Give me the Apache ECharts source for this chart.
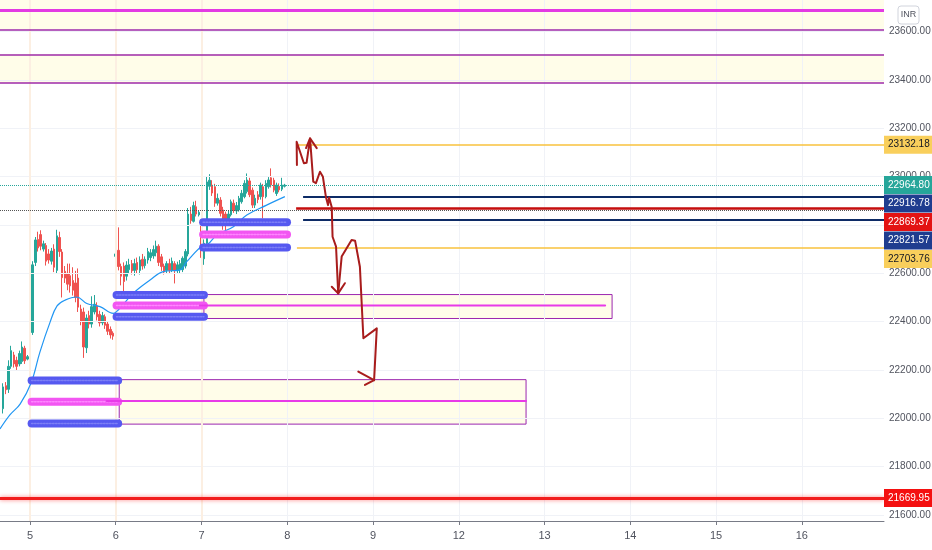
<!DOCTYPE html>
<html>
<head>
<meta charset="utf-8">
<script src="https://cdn.jsdelivr.net/npm/echarts@6/dist/echarts.min.js"></script>
<style>
html,body{margin:0;padding:0;background:#fff;}
#chart{width:932px;height:550px;}
</style>
</head>
<body>
<div id="chart"></div>
<script>
// candles: [open, close, low, high], one bar per slot, 32 slots per session
var barsPerDay = 32;
var firstIndex = -10;
var dayLabels = ['5', '6', '7', '8', '9', '12', '13', '14', '15', '16'];
var priceTicks = [21600, 21800, 22000, 22200, 22400, 22600, 22800, 23000, 23200, 23400, 23600];

var day4Tail = [
  [22040,22130,22020,22145],[22135,22118,22100,22150],[22120,22215,22105,22240],
  [22215,22280,22205,22300],[22262,22225,22210,22275],[22240,22215,22200,22255],
  [22225,22268,22215,22280],[22235,22295,22225,22318],[22290,22238,22225,22300],
  [22245,22255,22240,22262]
];
var day5 = [
  [22350,22360,22345,22365],[22355,22635,22345,22650],[22645,22738,22630,22750],
  [22740,22705,22690,22772],[22760,22712,22695,22778],[22700,22722,22690,22735],
  [22715,22650,22632,22725],[22680,22655,22640,22700],[22650,22692,22636,22705],
  [22700,22625,22605,22720],[22612,22755,22600,22780],[22748,22690,22668,22772],
  [22688,22582,22500,22700],[22608,22580,22560,22630],[22600,22555,22530,22640],
  [22590,22548,22520,22640],[22570,22530,22508,22625],[22560,22500,22480,22610],
  [22580,22460,22440,22620],[22452,22400,22385,22470],[22440,22295,22250,22458],
  [22292,22415,22270,22430],[22425,22390,22372,22445],[22390,22462,22375,22505],
  [22440,22472,22430,22510],[22465,22420,22405,22480],[22430,22395,22380,22445],
  [22395,22425,22385,22440],[22420,22385,22370,22430],[22390,22360,22345,22400],
  [22368,22345,22330,22380],[22352,22340,22325,22360]
];
var day6 = [
  [22670,22680,22665,22685],[22695,22628,22612,22790],[22628,22588,22550,22640],
  [22630,22566,22525,22645],[22588,22634,22570,22650],[22615,22636,22600,22660],
  [22640,22610,22595,22655],[22612,22640,22590,22660],[22645,22615,22598,22665],
  [22612,22655,22595,22670],[22658,22630,22615,22680],[22632,22658,22620,22670],
  [22655,22690,22640,22705],[22665,22685,22650,22700],[22672,22698,22660,22715],
  [22685,22712,22670,22735],[22712,22645,22630,22720],[22668,22628,22610,22680],
  [22630,22605,22595,22640],[22612,22640,22600,22650],[22640,22612,22600,22660],
  [22612,22650,22605,22665],[22640,22612,22558,22650],[22612,22635,22600,22648],
  [22615,22640,22600,22655],[22615,22662,22605,22670],[22630,22690,22620,22700],
  [22680,22845,22670,22870],[22845,22818,22805,22875],[22815,22880,22810,22896],
  [22875,22845,22835,22900],[22842,22852,22835,22860]
];
var day7 = [
  [22820,22665,22610,22835],[22660,22724,22635,22740],[22724,22978,22715,23000],
  [22960,22985,22945,23010],[22965,22932,22920,22985],[22958,22890,22875,22970],
  [22890,22910,22880,22930],[22903,22848,22835,22915],[22862,22813,22780,22875],
  [22845,22815,22752,22855],[22820,22845,22810,22860],[22842,22896,22835,22905],
  [22890,22860,22850,22905],[22858,22880,22845,22895],[22862,22910,22855,22920],
  [22896,22931,22888,22945],[22917,22972,22910,22985],[22938,22986,22930,23013],
  [22982,22925,22915,22995],[22944,22882,22870,22955],[22882,22910,22870,22925],
  [22925,22905,22890,22940],[22917,22965,22905,22975],[22958,22917,22827,22970],
  [22917,22972,22910,22985],[22958,22986,22950,22998],[22995,22965,22955,23034],
  [22985,22944,22935,22995],[22930,22965,22920,22975],[22960,22945,22935,22972],
  [22948,22965,22940,22995],[22960,22964.8,22955,22970]
];

// moving average: [bar index, price]
var maPoints = [
  [-11.2,21956],[-7.5,22014],[-3.7,22059],[0.4,22146],[3.7,22274],[7.5,22398],
  [10.1,22465],[13.1,22489],[17.4,22502],[21.2,22475],[26.1,22462],[31.1,22434],
  [32.9,22448],[38.5,22517],[44.8,22572],[49.7,22607],[56,22614],[58.5,22648],
  [64.7,22717],[66.4,22721],[69.7,22758],[75.9,22793],[80.9,22841],[88.3,22882],[95.1,22917]
];

// drawn levels
var bandZones = [[23609, 23731], [23387, 23506]];
var purpleLevels = [23609, 23506, 23387];
var magentaLevel = 23690;
var lastPrice = 22964.80;
var prevClose = 22859;
var supportLevel = 21669.95;
var goldLevels = [23132.18, 22703.76];
var navyLevels = [22916.78, 22821.57];
var redLevel = 22869.37;
var levelStart = 99.6;
var navyStart = 101.9;

// boxes: [x0, x1, top, bottom, mid]
var boxes = [[64.9, 217.2, 22512, 22413, 22467], [33.3, 185.1, 22160, 21976, 22072]];
var boxMidStart = [63.4, 28.6];
var boxMidEnd = [214.6, 185.1];
// dotted bars: [x0, x1, top, mid, bottom]
var barSets = [
  [0.6, 32.9, 22156, 22069, 21979],
  [32.3, 64.9, 22510, 22467, 22420],
  [64.6, 95.9, 22811, 22760, 22707]
];

// hand-drawn arrows
var arrowPathA = [[99.6,23048],[99.5,23144],[102.2,23055],[103.2,23057],[104.5,23158],[105.7,22979],
  [106.7,22973],[108.2,23020],[109.3,22999],[110.4,22917],[111.2,22882],[111.6,22914],[112.6,22873],
  [112.9,22751],[114.2,22710],[115,22517]];
var arrowPathB = [[115,22517],[116.3,22669],[120,22738],[121.3,22735],[123.1,22627],[124.4,22331],
  [129.4,22372],[128.4,22158]];
var arrowHeads = [
  [[103,23118],[104.5,23158],[107,23118]],
  [[112.6,22544],[115,22517],[117.5,22559]],
  [[122.5,22193],[128.4,22158],[125,22138]]
];

var tagValues = [23132.18, 22964.80, 22916.78, 22869.37, 22821.57, 22703.76, 21669.95];

var X_MIN = -11.19, X_MAX = 318.66;
var Y_MIN = 21575.2, Y_MAX = 23730.6;

var candles = day4Tail.concat(day5, day6, day7).map(function (c, k) {
  return [k + firstIndex, c[0], c[1], c[2], c[3]];
});
var dayTicks = dayLabels.map(function (_, k) { return k * barsPerDay; });

function hline(x0, x1, v) { return [{ coord: [x0, v] }, { coord: [x1, v] }]; }
function plainLine(data, color, width, z, type) {
  return {
    type: 'line', data: data, symbol: 'none', silent: true, z: z,
    lineStyle: { color: color, width: width, type: type || 'solid', cap: 'round', join: 'round' }
  };
}

var series = [];

// background bands + grid
series.push({
  type: 'line', data: [[0, 22000]], symbol: 'none', lineStyle: { opacity: 0 }, silent: true, z: 1,
  markArea: {
    silent: true,
    itemStyle: { color: '#fffde9' },
    data: bandZones.map(function (b) { return [{ yAxis: b[0] }, { yAxis: b[1] }]; })
  },
  markLine: {
    silent: true, symbol: ['none', 'none'], label: { show: false },
    lineStyle: { color: '#f0f2f7', width: 1, type: 'solid' },
    data: priceTicks.map(function (v) { return { yAxis: v }; })
      .concat(dayTicks.map(function (v, k) {
        return { xAxis: v, lineStyle: { color: k < 3 ? '#fcefe2' : '#f0f2f7', width: k < 3 ? 2 : 1 } };
      }))
  }
});

// boxes
series.push({
  type: 'line', data: [[0, 22000]], symbol: 'none', lineStyle: { opacity: 0 }, silent: true, z: 2,
  markArea: {
    silent: true,
    itemStyle: { color: 'rgba(255,251,215,0.55)', borderColor: '#9c27b0', borderWidth: 1 },
    data: boxes.map(function (b) { return [{ coord: [b[0], b[2]] }, { coord: [b[1], b[3]] }]; })
  }
});

// candles
series.push({
  type: 'candlestick', data: candles, encode: { x: 0, y: [1, 2, 3, 4] }, barWidth: 2, z: 4, silent: true,
  itemStyle: { color: '#26a69a', color0: '#ef5350', borderColor: '#26a69a', borderColor0: '#ef5350', borderWidth: 1 }
});

// moving average
series.push({
  type: 'line', data: maPoints, symbol: 'none', smooth: 0.4, silent: true, z: 5,
  lineStyle: { color: '#2196f3', width: 1.2 }
});

// dotted bars: a solid bead line with a lighter dotted core
barSets.forEach(function (s) {
  [[s[2], '#5659f0', '#7c7ff6'], [s[3], '#f256f2', '#ff86ff'], [s[4], '#5659f0', '#7c7ff6']].forEach(function (b) {
    series.push(plainLine([[s[0], b[0]], [s[1], b[0]]], b[1], 8, 6));
    series.push(plainLine([[s[0], b[0]], [s[1], b[0]]], b[2], 1.5, 6, 'dotted'));
  });
});

// box middle lines
boxes.forEach(function (b, k) {
  series.push(plainLine([[boxMidStart[k], b[4]], [boxMidEnd[k], b[4]]], '#e83ae8', 2, 7));
});

// levels
var levelData = [
  { yAxis: magentaLevel, lineStyle: { color: '#e33ae3', width: 3, type: 'solid' } },
  { yAxis: lastPrice, lineStyle: { color: '#26a69a', width: 1, type: 'dotted' } },
  { yAxis: prevClose, lineStyle: { color: '#555', width: 1, type: 'dotted' } },
  { yAxis: supportLevel, lineStyle: { color: '#f21d1d', width: 3, type: 'solid', shadowBlur: 4, shadowColor: 'rgba(255,0,0,0.5)' } }
];
purpleLevels.forEach(function (v) {
  levelData.push({ yAxis: v, lineStyle: { color: '#9e2aa8', width: 1.5, type: 'solid' } });
});
var partialData = [];
goldLevels.forEach(function (v) {
  var l = hline(levelStart, X_MAX, v);
  l[0].lineStyle = { color: '#f8c23c', width: 1.5, type: 'solid' };
  partialData.push(l);
});
navyLevels.forEach(function (v) {
  var l = hline(navyStart, X_MAX, v);
  l[0].lineStyle = { color: '#0d2b66', width: 2, type: 'solid' };
  partialData.push(l);
});
var rl = hline(levelStart - 0.3, X_MAX, redLevel);
rl[0].lineStyle = { color: '#c50d0d', width: 2.5, type: 'solid' };
partialData.push(rl);

series.push({
  type: 'line', data: [[0, 22000]], symbol: 'none', lineStyle: { opacity: 0 }, silent: true, z: 8,
  markLine: {
    silent: true, symbol: ['none', 'none'], label: { show: false }, animation: false,
    data: levelData.concat(partialData)
  }
});

// arrows
series.push(plainLine(arrowPathA, '#a81c1c', 2, 10));
series.push(plainLine(arrowPathB, '#a81c1c', 2, 10));
arrowHeads.forEach(function (h) { series.push(plainLine(h, '#a81c1c', 2, 10)); });

var chart = echarts.init(document.getElementById('chart'));
var axisFont = '"Liberation Sans", Arial, sans-serif';
chart.setOption({
  animation: false,
  backgroundColor: '#ffffff',
  grid: { left: 0, right: 48, top: 0, bottom: 29, containLabel: false, outerBoundsMode: 'none' },
  xAxis: {
    type: 'value', min: X_MIN, max: X_MAX,
    splitLine: { show: false },
    axisLine: { lineStyle: { color: '#787b86' } },
    axisTick: { customValues: dayTicks, length: 4, lineStyle: { color: '#787b86' } },
    axisLabel: {
      customValues: dayTicks, color: '#50535e', fontSize: 11, margin: 9, fontFamily: axisFont,
      formatter: function (v) { return dayLabels[Math.round(v / barsPerDay)]; }
    }
  },
  yAxis: {
    type: 'value', position: 'right', min: Y_MIN, max: Y_MAX,
    splitLine: { show: false },
    axisLine: { show: true, lineStyle: { color: '#787b86' } },
    axisTick: { show: true, customValues: priceTicks, length: 3, lineStyle: { color: '#787b86' } },
    axisLabel: {
      customValues: priceTicks, color: '#50535e', fontSize: 10, margin: 5, fontFamily: axisFont,
      formatter: function (v) { return v.toFixed(2); }
    }
  },
  series: series
});

// price tags on the right scale, stacked so they do not overlap
var tagStyle = {
  '23132.18': ['#f9cf5c', '#131722'], '22964.8': ['#26a69a', '#fff'], '22916.78': ['#1f3d8f', '#fff'],
  '22869.37': ['#e31313', '#fff'], '22821.57': ['#1f3d8f', '#fff'], '22703.76': ['#f9cf5c', '#131722'],
  '21669.95': ['#f41010', '#fff']
};
var tags = tagValues.map(function (v) {
  return { v: v, y: chart.convertToPixel({ yAxisIndex: 0 }, v) };
}).sort(function (a, b) { return a.y - b.y; });
for (var k = 1; k < tags.length; k++) {
  if (tags[k].y < tags[k - 1].y + 18.5) tags[k].y = tags[k - 1].y + 18.5;
}
var axisX = chart.convertToPixel({ xAxisIndex: 0 }, X_MAX);
var graphics = [];
tags.forEach(function (t) {
  var st = tagStyle[String(t.v)];
  graphics.push({
    type: 'rect', z: 100, shape: { x: axisX, y: t.y - 9, width: 932 - axisX, height: 18 },
    style: { fill: st[0] }
  });
  graphics.push({
    type: 'text', z: 101, x: axisX + 4, y: t.y,
    style: { text: t.v.toFixed(2), fill: st[1], font: '10px ' + axisFont, verticalAlign: 'middle' }
  });
});
graphics.push({
  type: 'rect', z: 100, shape: { x: axisX + 14, y: 6, width: 21, height: 18, r: 3 },
  style: { fill: '#fff', stroke: '#d1d4dc', lineWidth: 1 }
});
graphics.push({
  type: 'text', z: 101, x: axisX + 24.5, y: 15,
  style: { text: 'INR', fill: '#50535e', font: '9px ' + axisFont, align: 'center', verticalAlign: 'middle' }
});
chart.setOption({ graphic: graphics });
</script>
</body>
</html>
